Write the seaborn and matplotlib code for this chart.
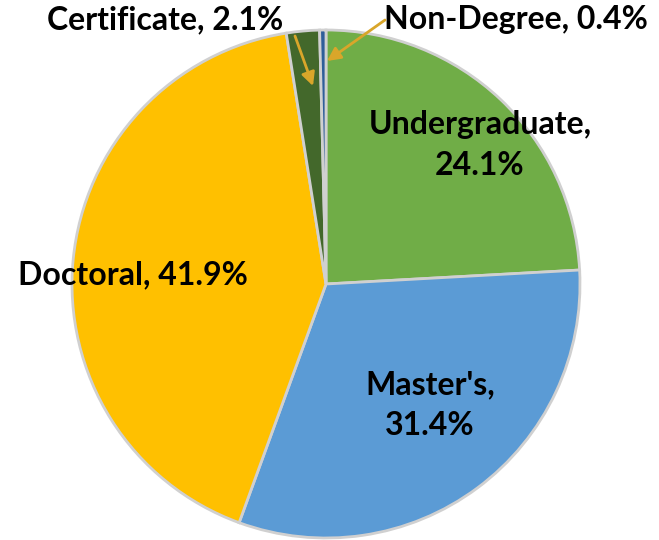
import matplotlib
matplotlib.use("Agg")
import matplotlib.pyplot as plt
import seaborn as sns

categories = ["Undergraduate", "Master's", "Doctoral", "Certificate", "Non-Degree"]
values = [24.1, 31.4, 41.9, 2.1, 0.4]
colors = ["#70AD47", "#5B9BD5", "#FFC000", "#43682B", "#2E5E9A"]

sns.set_theme(style="white")
plt.rcParams['font.family'] = ['Lato', 'DejaVu Sans']

W, H = 659, 540
fig = plt.figure(figsize=(W / 100, H / 100), dpi=100)
ax = fig.add_axes([0, 0, 1, 1])

cx, cy, r = 326, H - 284, 254
ax.pie(values, colors=colors, startangle=90, counterclock=False,
       center=(cx, cy), radius=r, frame=True,
       wedgeprops=dict(edgecolor="#D0D0D0", linewidth=2))
ax.set_xlim(0, W)
ax.set_ylim(0, H)
ax.set_aspect('equal')
ax.axis('off')

fs = 23
tk = dict(fontsize=fs, fontweight='bold', color='black', ha='center', va='center')
ax.text(480, H - 145, f"{categories[0]},\n{values[0]}%", linespacing=1.5, **tk)
ax.text(430, H - 405, f"{categories[1]},\n{values[1]}%", linespacing=1.5, **tk)
ax.text(133, H - 275, f"{categories[2]}, {values[2]}%", **tk)
ax.text(165, H - 20, f"{categories[3]}, {values[3]}%", **tk)
ax.text(516, H - 20, f"{categories[4]}, {values[4]}%", **tk)

arrow = dict(arrowstyle='-|>', color='#D9A62A', lw=2, mutation_scale=20,
             shrinkA=0, shrinkB=0)
ax.annotate("", xy=(313, H - 86), xytext=(295, H - 36), arrowprops=arrow)
ax.annotate("", xy=(327, H - 61), xytext=(385, H - 20), arrowprops=arrow)

fig.savefig("out.png", dpi=100)
